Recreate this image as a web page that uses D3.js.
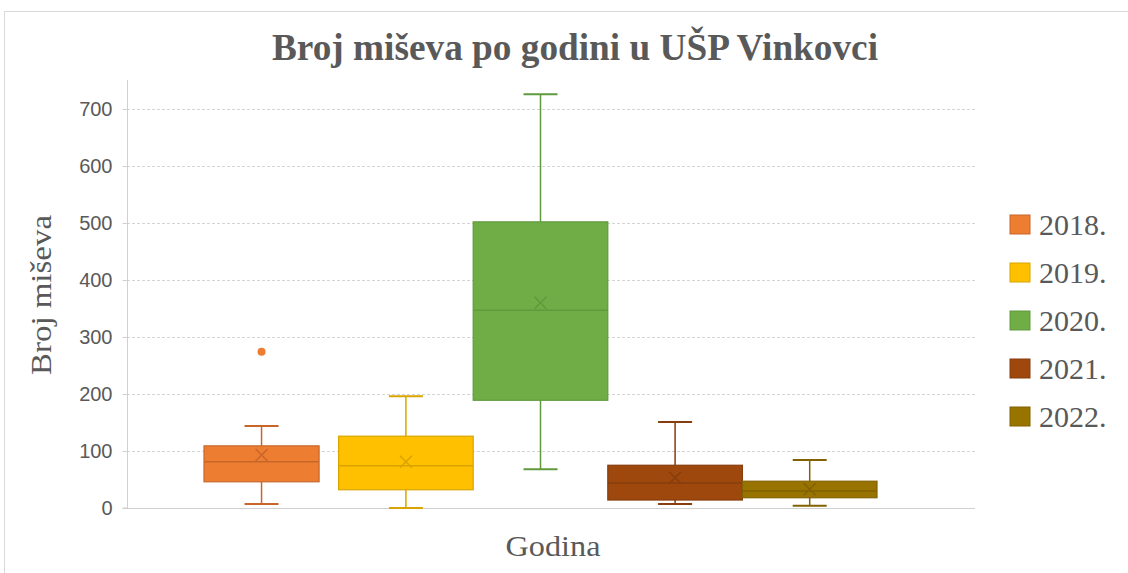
<!DOCTYPE html>
<html>
<head>
<meta charset="utf-8">
<script src="https://cdn.jsdelivr.net/npm/d3@7"></script>
<style>
  body { margin: 0; background: #fff; }
</style>
</head>
<body>
<svg id="chart" width="1128" height="573"></svg>
<script>
// values
const years = ['2018.', '2019.', '2020.', '2021.', '2022.'];
const whiskerLow = [7, 0, 68, 7, 4];
const q1 = [46, 32, 189, 14, 18];
const median = [81, 74, 347, 44, 30];
const q3 = [109, 126, 502, 75, 47];
const whiskerHigh = [144, 196, 726, 151, 84];
const means = [93, 81, 360, 53, 33];
const outliers = [[274], [], [], [], []];
const yTicks = [0, 100, 200, 300, 400, 500, 600, 700];

const fills = ['#ED7D31', '#FFC000', '#70AD47', '#9E480E', '#997300'];
const strokes = ['#C8662A', '#D9A400', '#5F9A3C', '#873D0C', '#826200'];

const svg = d3.select('#chart');
const plot = { left: 127, right: 975, top: 80, bottom: 508 };
const serif = 'Liberation Serif, Times New Roman, serif';

// chart frame
svg.append('rect')
    .attr('x', 4.5).attr('y', 11.5)
    .attr('width', 1140).attr('height', 580)
    .attr('fill', '#fff')
    .attr('stroke', '#d9d9d9');

const y = d3.scaleLinear()
    .domain([0, 700])
    .range([plot.bottom, 109]);

const x = d3.scaleBand()
    .domain(years)
    .range([204, 877])
    .paddingInner(0);

// gridlines
svg.append('g')
    .selectAll('line')
    .data(yTicks.slice(1))
    .enter()
    .append('line')
    .attr('x1', plot.left).attr('x2', plot.right)
    .attr('y1', (d) => Math.round(y(d)) + 0.5)
    .attr('y2', (d) => Math.round(y(d)) + 0.5)
    .attr('stroke', '#d4d4d4')
    .attr('stroke-dasharray', '3,2');

// y axis
const yAxis = svg.append('g')
    .attr('transform', 'translate(' + (plot.left + 0.5) + ',0)')
    .call(d3.axisLeft(y).tickValues(yTicks).tickSize(5).tickPadding(10));
yAxis.select('.domain').attr('stroke', '#d0d0d0').attr('d', 'M-5,' + plot.bottom + 'H0V' + plot.top);
yAxis.selectAll('.tick line').attr('stroke', '#d0d0d0');
yAxis.selectAll('.tick text')
    .attr('fill', '#595959')
    .style('font-family', 'Liberation Sans, Arial, sans-serif')
    .style('font-size', '20px');

// x axis line
svg.append('line')
    .attr('x1', plot.left).attr('x2', plot.right)
    .attr('y1', plot.bottom + 0.5).attr('y2', plot.bottom + 0.5)
    .attr('stroke', '#d0d0d0');

// boxes
const boxes = svg.append('g')
    .selectAll('g')
    .data(years)
    .enter()
    .append('g');

boxes.each(function (d, i) {
    const g = d3.select(this);
    const bw = i === 0 ? x.bandwidth() * 0.855 : x.bandwidth();
    const x0 = x(d);
    const cx = x0 + bw / 2;
    const capW = 34;

    // whiskers
    g.append('line')
        .attr('x1', cx).attr('x2', cx)
        .attr('y1', y(whiskerHigh[i])).attr('y2', y(q3[i]))
        .attr('stroke', strokes[i]).attr('stroke-width', 1.5);
    g.append('line')
        .attr('x1', cx).attr('x2', cx)
        .attr('y1', y(q1[i])).attr('y2', y(whiskerLow[i]))
        .attr('stroke', strokes[i]).attr('stroke-width', 1.5);
    g.append('line')
        .attr('x1', cx - capW / 2).attr('x2', cx + capW / 2)
        .attr('y1', y(whiskerHigh[i])).attr('y2', y(whiskerHigh[i]))
        .attr('stroke', strokes[i]).attr('stroke-width', 2);
    g.append('line')
        .attr('x1', cx - capW / 2).attr('x2', cx + capW / 2)
        .attr('y1', y(whiskerLow[i])).attr('y2', y(whiskerLow[i]))
        .attr('stroke', strokes[i]).attr('stroke-width', 2);

    // box
    g.append('rect')
        .attr('x', x0).attr('width', bw)
        .attr('y', y(q3[i]))
        .attr('height', y(q1[i]) - y(q3[i]))
        .attr('fill', fills[i])
        .attr('stroke', strokes[i]).attr('stroke-width', 1.2);

    // median
    g.append('line')
        .attr('x1', x0).attr('x2', x0 + bw)
        .attr('y1', y(median[i])).attr('y2', y(median[i]))
        .attr('stroke', strokes[i]).attr('stroke-width', 1.5);

    // mean marker
    const my = y(means[i]);
    const s = 6;
    g.append('path')
        .attr('d', 'M' + (cx - s) + ',' + (my - s) + 'L' + (cx + s) + ',' + (my + s) +
            'M' + (cx - s) + ',' + (my + s) + 'L' + (cx + s) + ',' + (my - s))
        .attr('stroke', strokes[i]).attr('stroke-width', 1.5).attr('fill', 'none');

    // outliers
    g.selectAll('circle')
        .data(outliers[i])
        .enter()
        .append('circle')
        .attr('cx', cx).attr('cy', (v) => y(v))
        .attr('r', 4)
        .attr('fill', fills[i]);
});

// titles
svg.append('text')
    .attr('x', 575).attr('y', 60)
    .attr('text-anchor', 'middle')
    .attr('fill', '#595959')
    .attr('textLength', 606)
    .attr('lengthAdjust', 'spacingAndGlyphs')
    .style('font-family', serif)
    .style('font-weight', 'bold')
    .style('font-size', '38px')
    .text('Broj miševa po godini u UŠP Vinkovci');

svg.append('text')
    .attr('transform', 'translate(51,295) rotate(-90)')
    .attr('text-anchor', 'middle')
    .attr('fill', '#595959')
    .attr('textLength', 160)
    .attr('lengthAdjust', 'spacingAndGlyphs')
    .style('font-family', serif)
    .style('font-size', '29px')
    .text('Broj miševa');

svg.append('text')
    .attr('x', 553).attr('y', 556)
    .attr('text-anchor', 'middle')
    .attr('fill', '#595959')
    .attr('textLength', 95)
    .attr('lengthAdjust', 'spacingAndGlyphs')
    .style('font-family', serif)
    .style('font-size', '29px')
    .text('Godina');

// legend
const legend = svg.append('g')
    .selectAll('g')
    .data(years)
    .enter()
    .append('g')
    .attr('transform', (d, i) => 'translate(1010,' + (215 + i * 48) + ')');

legend.append('rect')
    .attr('width', 20).attr('height', 19)
    .attr('fill', (d, i) => fills[i])
    .attr('stroke', (d, i) => strokes[i]);

legend.append('text')
    .attr('x', 29).attr('y', 20)
    .attr('fill', '#595959')
    .style('font-family', serif)
    .style('font-size', '30px')
    .text((d) => d);
</script>
</body>
</html>
